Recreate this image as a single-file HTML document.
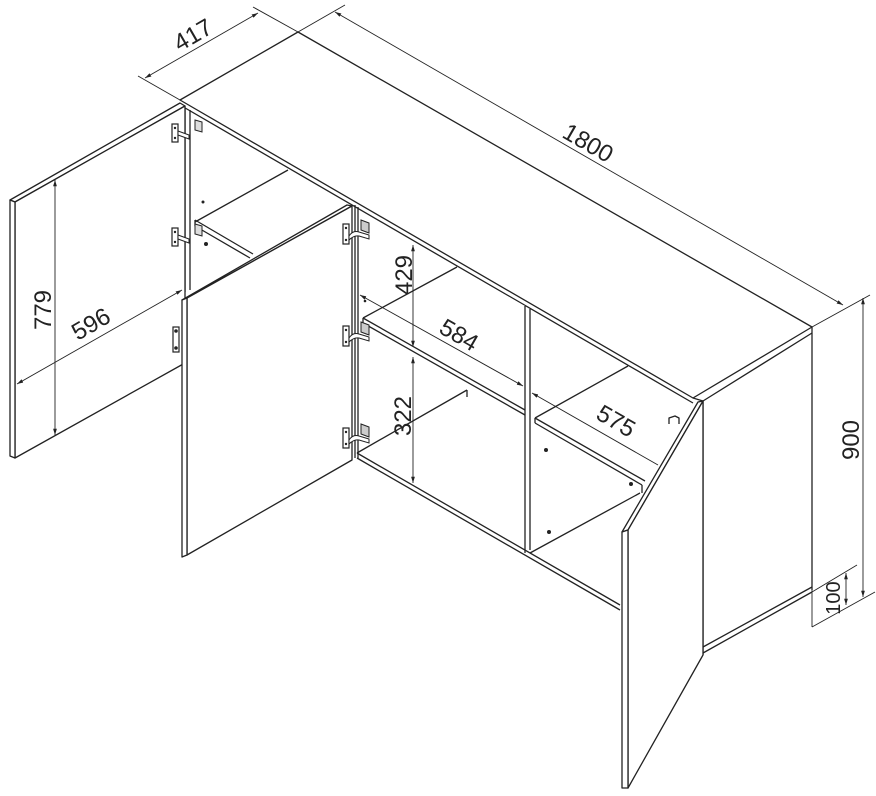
<!DOCTYPE html>
<html><head><meta charset="utf-8"><style>
html,body{margin:0;padding:0;background:#fff}
svg{display:block}
text{font-family:"Liberation Sans",sans-serif;font-size:24px;fill:#222}
</style></head><body>
<svg width="876" height="796" viewBox="0 0 876 796" xmlns="http://www.w3.org/2000/svg">
<defs>
<marker id="a" viewBox="0 0 10 10" refX="10" refY="5" markerWidth="7" markerHeight="7" orient="auto-start-reverse"><path d="M0,2 L10,5 L0,8 z" fill="#222"/></marker>
<g id="h1">
<rect x="0" y="0" width="6" height="18" fill="none" stroke="#222" stroke-width="1.2"/>
<circle cx="3" cy="4" r="1.2" fill="#222"/><circle cx="3" cy="14" r="1.2" fill="#222"/>
<path d="M6,7 L17,11 L17,15 L6,11 z" fill="#fff" stroke="#222" stroke-width="1"/>
<path d="M23,-4 l7,2 l0,10 l-7,-2 z" fill="#ddd" stroke="#222" stroke-width="1"/>
</g>
<g id="h2">
<rect x="0" y="0" width="6" height="20" fill="none" stroke="#222" stroke-width="1.2"/>
<circle cx="3" cy="4" r="1.2" fill="#222"/><circle cx="3" cy="16" r="1.2" fill="#222"/>
<path d="M6,12 q4,-6 10,-4 l10,3 l0,4 l-10,-3 q-5,-1 -10,4 z" fill="#fff" stroke="#222" stroke-width="1"/>
<path d="M18,-4 l8,3 l0,10 l-8,-3 z" fill="#ccc" stroke="#222" stroke-width="1"/>
</g>
</defs>
<g fill="none" stroke="#222" stroke-width="1.3" stroke-linejoin="round">
<polygon points="180,100 298,32 812,327 693,398" fill="#fff"/>
<line x1="180" y1="105" x2="693" y2="403"/>
<polyline points="693,398 703,401 812,333"/>
<line x1="812" y1="327" x2="812" y2="333"/>
<line x1="703" y1="401" x2="703" y2="655"/>
<line x1="812" y1="333" x2="812" y2="590"/>
<line x1="703" y1="647" x2="812" y2="587"/>
<line x1="703" y1="653" x2="812" y2="592"/>
<line x1="185" y1="108" x2="185" y2="292"/>
<line x1="190" y1="110" x2="190" y2="290"/>
<polyline points="195,222 288,170"/>
<polyline points="195,220 195,226 250,258"/>
<line x1="195" y1="220" x2="253" y2="254"/>
<polygon points="10,200 180,103 185,106 15,202" fill="#fff"/>
<polygon points="15,202 185,106 185,363 15,458" fill="#fff"/>
<polygon points="10,200 15,202 15,458 10,456" fill="#fff"/>
<line x1="355" y1="205" x2="355" y2="458"/>
<line x1="358" y1="207" x2="358" y2="458"/>
<polygon points="363,318 457,267 525,306 525,415" fill="#fff" stroke="none"/>
<polyline points="363,318 457,267"/>
<line x1="363" y1="318" x2="525" y2="410"/>
<line x1="363" y1="323" x2="525" y2="415"/>
<line x1="363" y1="318" x2="363" y2="323"/>
<line x1="467" y1="390" x2="467" y2="397"/>
<line x1="357" y1="453" x2="467" y2="390"/>
<line x1="357" y1="453" x2="620" y2="605"/>
<line x1="357" y1="458" x2="620" y2="610"/>
<line x1="525" y1="306" x2="525" y2="553"/>
<line x1="530" y1="309" x2="530" y2="550"/>
<line x1="535" y1="418" x2="628" y2="366"/>
<line x1="535" y1="418" x2="645" y2="481"/>
<line x1="535" y1="423" x2="642" y2="485"/>
<line x1="535" y1="418" x2="535" y2="423"/>
<line x1="530" y1="553" x2="640" y2="493"/>
<line x1="642" y1="485" x2="642" y2="493"/>
<path d="M669,424 l0,-6 l6,-2 l4,2 l0,6"/>
<polygon points="182,300 347,205 352,206 187,298" fill="#fff"/>
<polygon points="187,298 352,206 352,460 187,555" fill="#fff"/>
<polygon points="182,300 187,298 187,555 182,557" fill="#fff"/>
<polygon points="622,532 698,402 703,401 628,530" fill="#fff"/>
<polygon points="628,530 703,401 703,655 628,788" fill="#fff"/>
<polygon points="622,532 628,530 628,788 622,788" fill="#fff"/>
</g>
<g fill="#222">
<circle cx="203" cy="202" r="1.5"/><circle cx="206" cy="244" r="2"/>
<circle cx="365" cy="301" r="1.3"/>
<circle cx="546" cy="450" r="2"/><circle cx="631" cy="484" r="2"/><circle cx="549" cy="532" r="2"/>
</g>
<use href="#h1" x="172" y="124"/>
<use href="#h1" x="172" y="228"/>
<g fill="none" stroke="#222" stroke-width="1.2"><rect x="173" y="327" width="6" height="25"/><circle cx="176" cy="331" r="1.2" fill="#222"/><circle cx="176" cy="348" r="1.2" fill="#222"/></g>
<use href="#h2" x="343" y="224"/>
<use href="#h2" x="343" y="326"/>
<use href="#h2" x="343" y="428"/>
<g stroke="#222" stroke-width="0.9" fill="none">
<line x1="138" y1="76" x2="180" y2="100"/>
<line x1="253" y1="7" x2="298" y2="32"/>
<line x1="298" y1="32" x2="345" y2="5"/>
<line x1="812" y1="327" x2="870" y2="295"/>
<line x1="812" y1="590" x2="812" y2="627"/>
<line x1="812" y1="627" x2="875" y2="592"/>
<line x1="812" y1="592" x2="857" y2="565"/>
<line x1="145" y1="78" x2="258" y2="13" marker-start="url(#a)" marker-end="url(#a)"/>
<line x1="335" y1="12" x2="843" y2="305" marker-start="url(#a)" marker-end="url(#a)"/>
<line x1="863" y1="298" x2="863" y2="597" marker-start="url(#a)" marker-end="url(#a)"/>
<line x1="846" y1="573" x2="846" y2="605" marker-start="url(#a)" marker-end="url(#a)"/>
<line x1="55" y1="180" x2="55" y2="435" marker-start="url(#a)" marker-end="url(#a)"/>
<line x1="17" y1="384" x2="182" y2="290" marker-start="url(#a)" marker-end="url(#a)"/>
<line x1="413" y1="245" x2="413" y2="347" marker-start="url(#a)" marker-end="url(#a)"/>
<line x1="413" y1="357" x2="413" y2="483" marker-start="url(#a)" marker-end="url(#a)"/>
<line x1="360" y1="295" x2="523" y2="386" marker-start="url(#a)" marker-end="url(#a)"/>
<line x1="532" y1="393" x2="658" y2="465" marker-start="url(#a)"/>
</g>
<text transform="translate(197,42) rotate(-30)" text-anchor="middle">417</text>
<text transform="translate(584,150) rotate(30)" text-anchor="middle">1800</text>
<text transform="translate(51,310) rotate(-90)" text-anchor="middle">779</text>
<text transform="translate(95,331) rotate(-30)" text-anchor="middle">596</text>
<text transform="translate(412,275) rotate(-90)" text-anchor="middle">429</text>
<text transform="translate(411,416) rotate(-90)" text-anchor="middle">322</text>
<text transform="translate(455,342) rotate(30)" text-anchor="middle">584</text>
<text transform="translate(612,428) rotate(30)" text-anchor="middle">575</text>
<text transform="translate(859,440) rotate(-90)" text-anchor="middle">900</text>
<text transform="translate(840,598) rotate(-90)" text-anchor="middle" style="font-size:20px">100</text>
</svg>
</body></html>
